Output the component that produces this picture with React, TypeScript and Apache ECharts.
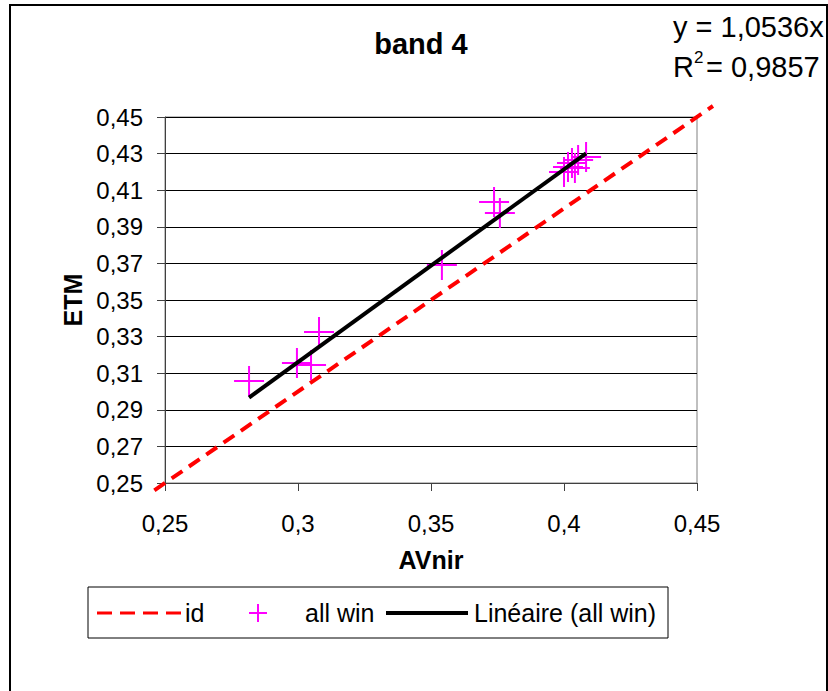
import React, { useEffect, useRef } from 'react';
import * as echarts from 'echarts';

// Data
const avnirValues = [0.2816, 0.2996, 0.3049, 0.3079, 0.3541, 0.3737, 0.3759, 0.4000, 0.4015, 0.4030, 0.4041, 0.4053, 0.4083];
const etmValues = [0.3057, 0.3156, 0.3145, 0.3325, 0.3691, 0.4035, 0.3975, 0.4199, 0.4227, 0.4249, 0.4221, 0.4265, 0.4281];
const trendSlope = 1.0536;
const trendLabel = 'y = 1,0536x';
const r2Value = '= 0,9857';
const idRange = [0.246, 0.456];
const axisRange = [0.25, 0.45];
const seriesNames = ['id', 'all win', 'Linéaire (all win)'];
const titleText = 'band 4';
const xName = 'AVnir';
const yName = 'ETM';

const FONT = '"Liberation Sans", Arial, Helvetica, sans-serif';
const CROSS = 'path://M15,0 L15,30 M0,15 L30,15';

const fmt = (v: number) => String(Number(v.toFixed(2))).replace('.', ',');

// plot area geometry
const G = { left: 165, top: 117, width: 532, height: 366 };

export default function App() {
  const ref = useRef<HTMLDivElement>(null);
  useEffect(() => {
    if (!ref.current) return;
    const chart = echarts.init(ref.current, undefined, { renderer: 'svg' });
    const points = avnirValues.map((x, i) => [x, etmValues[i]]);
    const xMin = Math.min(...avnirValues);
    const xMax = Math.max(...avnirValues);
    const trend = [[xMin, trendSlope * xMin], [xMax, trendSlope * xMax]];
    const idLine = idRange.map((v) => [v, v]);

    // second (invisible) grid so the identity line can overflow the plot area like in the reference
    const span = axisRange[1] - axisRange[0];
    const pxX = G.width / span;
    const pxY = G.height / span;
    const g2 = {
      left: G.left - (axisRange[0] - idRange[0]) * pxX,
      width: (idRange[1] - idRange[0]) * pxX,
      top: G.top - (idRange[1] - axisRange[1]) * pxY,
      height: (idRange[1] - idRange[0]) * pxY,
    };

    const ly = 613;
    const txt = (x: number, text: string) => ({
      type: 'text', x, y: ly,
      style: { text, font: `25px ${FONT}`, fill: '#000', textAlign: 'left', textVerticalAlign: 'middle' },
    });

    chart.setOption({
      animation: false,
      backgroundColor: '#ffffff',
      textStyle: { fontFamily: FONT },
      grid: [
        {
          left: G.left, top: G.top, width: G.width, height: G.height,
          show: true, borderColor: '#808080', borderWidth: 1, backgroundColor: '#ffffff',
        },
        { left: g2.left, top: g2.top, width: g2.width, height: g2.height, show: false },
      ],
      xAxis: [
        {
          type: 'value', min: axisRange[0], max: axisRange[1], interval: 0.05, gridIndex: 0,
          name: xName, nameLocation: 'middle', nameGap: 64,
          nameTextStyle: { fontSize: 25, fontWeight: 'bold', color: '#000', fontFamily: FONT },
          axisLine: { show: true, lineStyle: { color: '#404040', width: 1 } },
          axisTick: { show: true, length: 8, inside: false, lineStyle: { color: '#404040' } },
          axisLabel: { formatter: fmt, fontSize: 24, color: '#000', margin: 28, fontFamily: FONT },
          splitLine: { show: false },
        },
        { type: 'value', min: idRange[0], max: idRange[1], gridIndex: 1, show: false, splitLine: { show: false } },
      ],
      yAxis: [
        {
          type: 'value', min: axisRange[0], max: axisRange[1], interval: 0.02, gridIndex: 0,
          name: yName, nameLocation: 'middle', nameGap: 75,
          nameTextStyle: { fontSize: 25, fontWeight: 'bold', color: '#000', fontFamily: FONT },
          axisLine: { show: true, lineStyle: { color: '#404040', width: 1 } },
          axisTick: { show: true, length: 8, inside: false, lineStyle: { color: '#404040' } },
          axisLabel: { formatter: fmt, fontSize: 24, color: '#000', margin: 22, fontFamily: FONT },
          splitLine: { show: true, lineStyle: { color: '#000', width: 1 } },
        },
        { type: 'value', min: idRange[0], max: idRange[1], gridIndex: 1, show: false, splitLine: { show: false } },
      ],
      graphic: [
        {
          type: 'rect', shape: { x: 10, y: 5, width: 817, height: 700 },
          style: { fill: 'none', stroke: '#000', lineWidth: 2 }, silent: true, z: 100,
        },
        {
          type: 'text', x: 421, y: 44,
          style: { text: titleText, font: `bold 29px ${FONT}`, fill: '#000', textAlign: 'center', textVerticalAlign: 'middle' },
        },
        {
          type: 'text', x: 673, y: 27,
          style: { text: trendLabel, font: `29px ${FONT}`, fill: '#000', textAlign: 'left', textVerticalAlign: 'middle' },
        },
        {
          type: 'text', x: 673, y: 67,
          style: { text: 'R', font: `29px ${FONT}`, fill: '#000', textAlign: 'left', textVerticalAlign: 'middle' },
        },
        {
          type: 'text', x: 694, y: 57,
          style: { text: '2', font: `17px ${FONT}`, fill: '#000', textAlign: 'left', textVerticalAlign: 'middle' },
        },
        {
          type: 'text', x: 706, y: 67,
          style: { text: r2Value, font: `29px ${FONT}`, fill: '#000', textAlign: 'left', textVerticalAlign: 'middle' },
        },
        // legend
        {
          type: 'rect', shape: { x: 88, y: 587, width: 580, height: 51 },
          style: { fill: '#fff', stroke: '#000', lineWidth: 1 }, z: 50,
        },
        {
          type: 'line', shape: { x1: 97, y1: ly, x2: 181, y2: ly }, z: 51,
          style: { stroke: '#FF0000', lineWidth: 3, lineDash: [15, 8] },
        },
        { ...txt(185, seriesNames[0]), z: 51 },
        {
          type: 'line', shape: { x1: 249, y1: ly, x2: 267, y2: ly }, z: 51,
          style: { stroke: '#FF00FF', lineWidth: 2 },
        },
        {
          type: 'line', shape: { x1: 258, y1: ly - 9, x2: 258, y2: ly + 9 }, z: 51,
          style: { stroke: '#FF00FF', lineWidth: 2 },
        },
        { ...txt(305, seriesNames[1]), z: 51 },
        {
          type: 'line', shape: { x1: 386, y1: ly, x2: 468, y2: ly }, z: 51,
          style: { stroke: '#000000', lineWidth: 4 },
        },
        { ...txt(474, seriesNames[2]), z: 51 },
      ],
      series: [
        {
          name: seriesNames[0], type: 'line', data: idLine, symbol: 'none', clip: false,
          xAxisIndex: 1, yAxisIndex: 1,
          lineStyle: { color: '#FF0000', width: 4, type: [13, 8] },
          itemStyle: { color: '#FF0000' }, z: 2,
        },
        {
          name: seriesNames[1], type: 'scatter', data: points, symbol: CROSS, symbolSize: 30,
          xAxisIndex: 0, yAxisIndex: 0,
          itemStyle: { color: 'transparent', borderColor: '#FF00FF', borderWidth: 2, opacity: 1 }, z: 3,
        },
        {
          name: seriesNames[2], type: 'line', data: trend, symbol: 'none',
          xAxisIndex: 0, yAxisIndex: 0,
          lineStyle: { color: '#000000', width: 4 }, itemStyle: { color: '#000' }, z: 4,
        },
      ],
    });
    return () => chart.dispose();
  }, []);
  return <div ref={ref} style={{ position: 'absolute', left: 0, top: 0, width: 828, height: 691 }} />;
}
